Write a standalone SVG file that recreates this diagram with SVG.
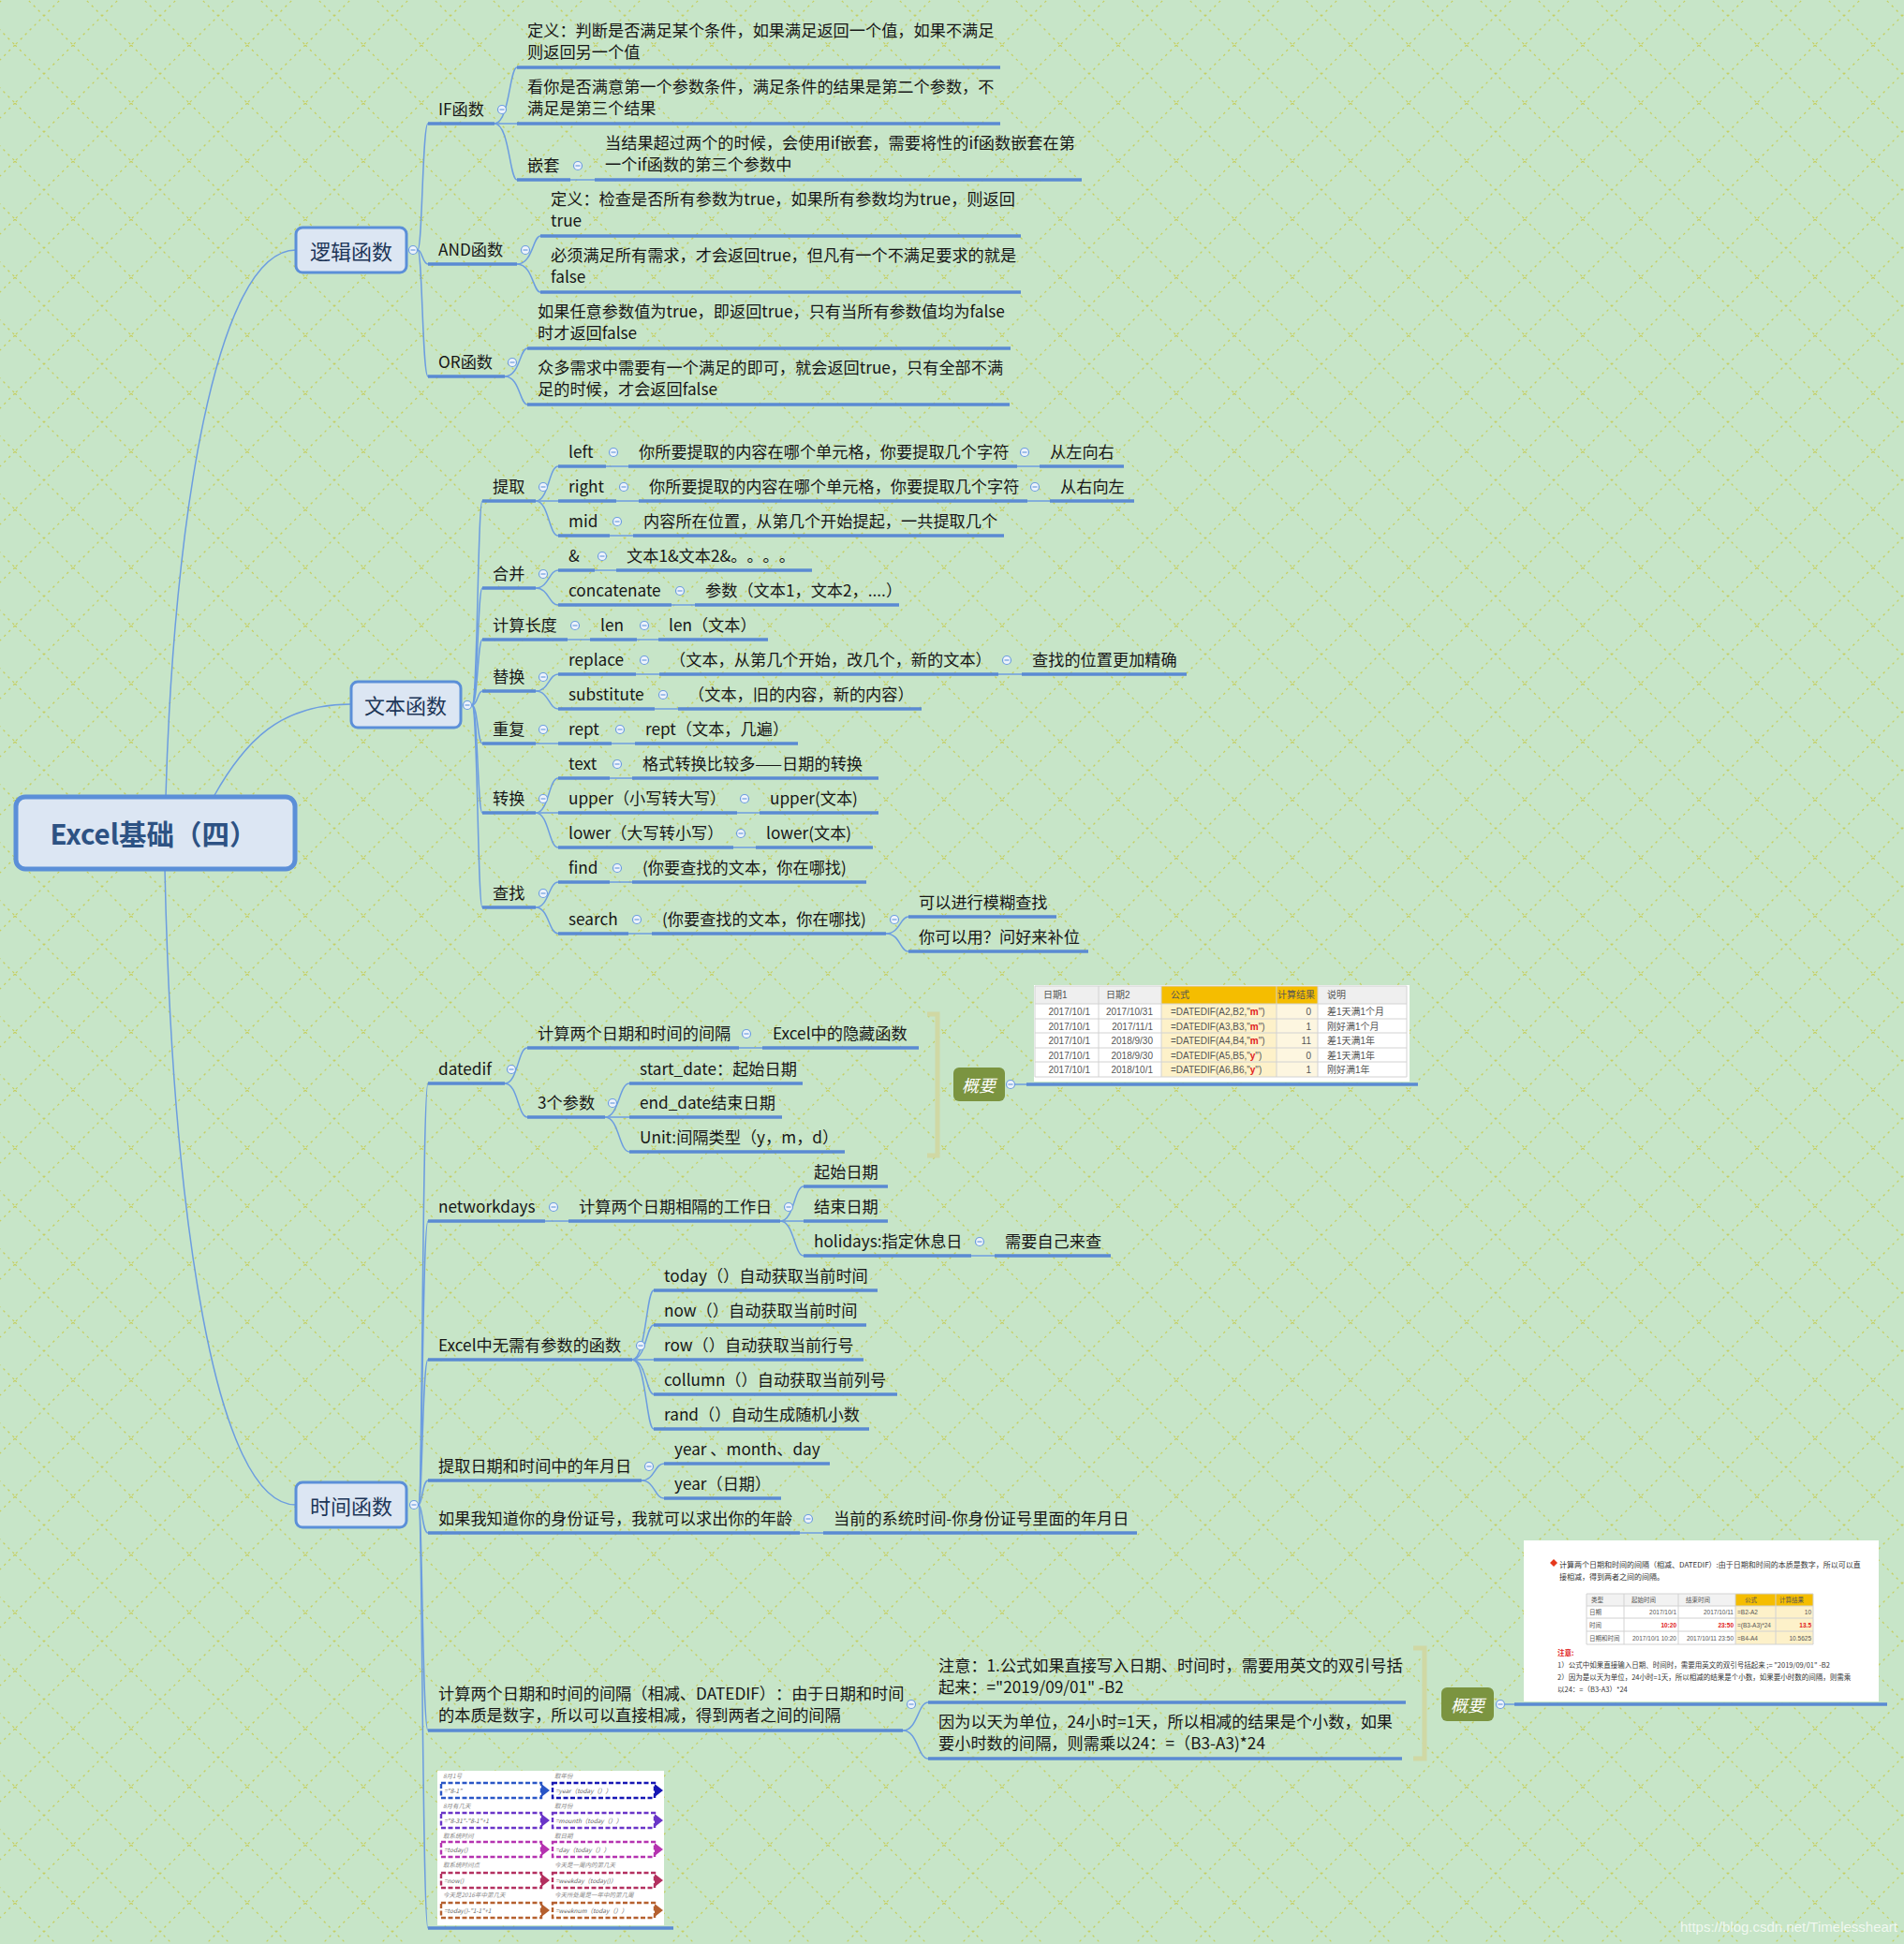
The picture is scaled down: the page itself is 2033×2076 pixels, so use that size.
<svg xmlns="http://www.w3.org/2000/svg" width="2033" height="2076" viewBox="0 0 2033 2076">
<defs>
<style>
text{text-spacing-trim:space-all}
.t{font-family:"Noto Sans CJK SC","Noto Sans",sans-serif;font-size:17.2px;fill:#161616;dominant-baseline:central;transform:translate(0px,-2px)}
.mt{font-family:"Noto Sans CJK SC","Noto Sans",sans-serif;font-size:22px;fill:#1c3557;dominant-baseline:central;text-anchor:middle}
.rt{font-family:"Noto Sans CJK SC","Noto Sans",sans-serif;font-size:29.5px;font-weight:bold;fill:#2d5283;dominant-baseline:central;text-anchor:middle}
.ul{stroke:#5a8ad3;stroke-width:3.5;fill:none}
.cn{stroke:#6c9de0;stroke-width:1.5;fill:none}
.box{fill:#dce6f3;stroke:#5b8fd8;stroke-width:3}
.sum{fill:#7b9440}
.st{font-family:"Noto Sans CJK SC",sans-serif;font-size:18px;font-style:italic;fill:#fff;dominant-baseline:central;text-anchor:middle}
.br{stroke:#d0d8a4;stroke-width:5;fill:none}
.tb{font-family:"Liberation Sans","Noto Sans CJK SC",sans-serif;font-size:10px;fill:#555;dominant-baseline:central}
.tb2{font-family:"Liberation Sans","Noto Sans CJK SC",sans-serif;font-size:6.5px;fill:#555;dominant-baseline:central}
.tx{font-family:"Noto Sans CJK SC","Liberation Sans",sans-serif;font-size:8px;fill:#333;dominant-baseline:central}
.tn{font-family:"Noto Sans CJK SC","Liberation Sans",sans-serif;font-size:7.5px;fill:#333;dominant-baseline:central}
.lb{font-family:"Noto Sans CJK SC","Liberation Sans",sans-serif;font-size:6.5px;font-style:italic;fill:#888;dominant-baseline:central}
.bt{font-family:"Noto Sans CJK SC","Liberation Sans",sans-serif;font-size:6.5px;font-style:italic;fill:#666;dominant-baseline:central}
.grid{stroke:#d2d2d2;stroke-width:1;fill:none}
.red{fill:#e02020;font-weight:bold}
</style>
<pattern id="bg" x="16" y="-14" width="62" height="62" patternUnits="userSpaceOnUse">
<path d="M0,0 L62,62 M62,0 L0,62" stroke="#c5cf62" stroke-width="1.3" stroke-dasharray="2.5 4.5" fill="none"/>
</pattern>
<g id="col"><circle r="4.5" fill="#eef3fb" stroke="#6c9de0" stroke-width="1.2"/><path d="M-2.5,0H2.5" stroke="#6c9de0" stroke-width="1.2"/></g>
</defs>
<rect width="2033" height="2076" fill="#c7e5c8"/>
<rect width="2033" height="2076" fill="url(#bg)"/>

<g id="connectors">
<path class="cn" d="M177,851 C185,560 230,267 316,267"/>
<path class="cn" d="M228,851 C262,790 300,752 375,752"/>
<path class="cn" d="M176,928 C184,1300 230,1607 316,1607"/>
<path class="cn" d="M446,267 C451,267 451,132 457,132"/>
<path class="cn" d="M446,267 C451,267 451,282 457,282"/>
<path class="cn" d="M446,267 C451,267 451,402 457,402"/>
<path class="cn" d="M528,132 C544,132 544,72 552,72"/>
<path class="cn" d="M528,132 L552,132"/>
<path class="cn" d="M528,132 C544,132 544,192 552,192"/>
<path class="cn" d="M609,192 L635,192"/>
<path class="cn" d="M552,282 C569,282 569,252 577,252"/>
<path class="cn" d="M552,282 C569,282 569,312 577,312"/>
<path class="cn" d="M539,402 C555,402 555,372 563,372"/>
<path class="cn" d="M539,402 C555,402 555,432 563,432"/>
<path class="cn" d="M504,753 C510,753 510,535 515,535"/>
<path class="cn" d="M504,753 C510,753 510,628 515,628"/>
<path class="cn" d="M504,753 C510,753 510,683 515,683"/>
<path class="cn" d="M504,753 C510,753 510,738 515,738"/>
<path class="cn" d="M504,753 C510,753 510,794 515,794"/>
<path class="cn" d="M504,753 C510,753 510,868 515,868"/>
<path class="cn" d="M504,753 C510,753 510,969 515,969"/>
<path class="cn" d="M572,535 C586,535 586,498 596,498"/>
<path class="cn" d="M572,535 L596,535"/>
<path class="cn" d="M572,535 C586,535 586,572 596,572"/>
<path class="cn" d="M647,498 L671,498"/>
<path class="cn" d="M1086,498 L1110,498"/>
<path class="cn" d="M658,535 L682,535"/>
<path class="cn" d="M1097,535 L1121,535"/>
<path class="cn" d="M651,572 L676,572"/>
<path class="cn" d="M572,628 C586,628 586,609 596,609"/>
<path class="cn" d="M572,628 C586,628 586,646 596,646"/>
<path class="cn" d="M635,609 L658,609"/>
<path class="cn" d="M717,646 L742,646"/>
<path class="cn" d="M606,683 L630,683"/>
<path class="cn" d="M680,683 L703,683"/>
<path class="cn" d="M572,738 C586,738 586,720 596,720"/>
<path class="cn" d="M572,738 C586,738 586,757 596,757"/>
<path class="cn" d="M679,720 L704,720"/>
<path class="cn" d="M1066,720 L1091,720"/>
<path class="cn" d="M699,757 L724,757"/>
<path class="cn" d="M572,794 L596,794"/>
<path class="cn" d="M653,794 L678,794"/>
<path class="cn" d="M572,868 C586,868 586,831 596,831"/>
<path class="cn" d="M572,868 L596,868"/>
<path class="cn" d="M572,868 C586,868 586,905 596,905"/>
<path class="cn" d="M651,831 L675,831"/>
<path class="cn" d="M787,868 L811,868"/>
<path class="cn" d="M783,905 L807,905"/>
<path class="cn" d="M572,969 C586,969 586,942 596,942"/>
<path class="cn" d="M572,969 C586,969 586,997 596,997"/>
<path class="cn" d="M651,942 L675,942"/>
<path class="cn" d="M671,997 L696,997"/>
<path class="cn" d="M946,997 C961,997 961,979 970,979"/>
<path class="cn" d="M946,997 C961,997 961,1016 970,1016"/>
<path class="cn" d="M447,1607 C451,1607 451,1157 457,1157"/>
<path class="cn" d="M447,1607 C451,1607 451,1304 457,1304"/>
<path class="cn" d="M447,1607 C451,1607 451,1452 457,1452"/>
<path class="cn" d="M447,1607 C451,1607 451,1581 457,1581"/>
<path class="cn" d="M447,1607 C451,1607 451,1637 457,1637"/>
<path class="cn" d="M447,1607 C451,1607 451,1848 457,1848"/>
<path class="cn" d="M447,1607 C451,1607 451,2059 457,2059"/>
<path class="cn" d="M539,1157 C553,1157 553,1119 563,1119"/>
<path class="cn" d="M539,1157 C553,1157 553,1193 563,1193"/>
<path class="cn" d="M789,1119 L814,1119"/>
<path class="cn" d="M646,1193 C661,1193 661,1157 672,1157"/>
<path class="cn" d="M646,1193 L672,1193"/>
<path class="cn" d="M646,1193 C661,1193 661,1230 672,1230"/>
<path class="cn" d="M582,1304 L607,1304"/>
<path class="cn" d="M833,1304 C848,1304 848,1267 858,1267"/>
<path class="cn" d="M833,1304 L858,1304"/>
<path class="cn" d="M833,1304 C848,1304 848,1341 858,1341"/>
<path class="cn" d="M1037,1341 L1062,1341"/>
<path class="cn" d="M675,1452 C690,1452 690,1378 698,1378"/>
<path class="cn" d="M675,1452 C690,1452 690,1415 698,1415"/>
<path class="cn" d="M675,1452 L698,1452"/>
<path class="cn" d="M675,1452 C690,1452 690,1489 698,1489"/>
<path class="cn" d="M675,1452 C690,1452 690,1526 698,1526"/>
<path class="cn" d="M685,1581 C699,1581 699,1563 709,1563"/>
<path class="cn" d="M685,1581 C699,1581 699,1600 709,1600"/>
<path class="cn" d="M854,1637 L879,1637"/>
<path class="cn" d="M964,1848 C980,1848 980,1818 991,1818"/>
<path class="cn" d="M964,1848 C980,1848 980,1878 991,1878"/>
<path class="cn" d="M1084,1158 L1096,1158"/>
<path class="cn" d="M1607,1820 L1617,1820"/>
</g>

<g id="n-root"><rect x="17" y="851" width="298" height="77" rx="10" fill="#dce6f3" stroke="#5b8fd8" stroke-width="5"/><text class="rt" x="164" y="889">Excel基础（四）</text></g>
<g id="n-logic"><rect class="box" x="316" y="243" width="118" height="48" rx="7"/><text class="mt" x="375" y="267">逻辑函数</text><use href="#col" x="441" y="267"/></g>
<g id="n-text"><rect class="box" x="375" y="728" width="117" height="49" rx="7"/><text class="mt" x="433" y="752">文本函数</text><use href="#col" x="499" y="753"/></g>
<g id="n-time"><rect class="box" x="316" y="1583" width="118" height="48" rx="7"/><text class="mt" x="375" y="1607">时间函数</text><use href="#col" x="442" y="1607"/></g>

<g id="n-if"><line class="ul" x1="457" y1="132" x2="528" y2="132"/><text class="t" x="468" y="117">IF函数</text><use href="#col" x="536" y="117"/></g>
<g id="n-if-def"><line class="ul" x1="552" y1="72" x2="1068" y2="72"/><text class="t" x="563" y="33">定义：判断是否满足某个条件，如果满足返回一个值，如果不满足</text><text class="t" x="563" y="56">则返回另一个值</text></g>
<g id="n-if-2"><line class="ul" x1="552" y1="132" x2="1068" y2="132"/><text class="t" x="563" y="93">看你是否满意第一个参数条件，满足条件的结果是第二个参数，不</text><text class="t" x="563" y="116">满足是第三个结果</text></g>
<g id="n-nest"><line class="ul" x1="552" y1="192" x2="609" y2="192"/><text class="t" x="563" y="177">嵌套</text><use href="#col" x="617" y="177"/></g>
<g id="n-nest-1"><line class="ul" x1="635" y1="192" x2="1155" y2="192"/><text class="t" x="646" y="153">当结果超过两个的时候，会使用if嵌套，需要将性的if函数嵌套在第</text><text class="t" x="646" y="176">一个if函数的第三个参数中</text></g>
<g id="n-and"><line class="ul" x1="457" y1="282" x2="552" y2="282"/><text class="t" x="468" y="267">AND函数</text><use href="#col" x="561" y="267"/></g>
<g id="n-and-1"><line class="ul" x1="577" y1="252" x2="1090" y2="252"/><text class="t" x="588" y="213">定义：检查是否所有参数为true，如果所有参数均为true，则返回</text><text class="t" x="588" y="236">true</text></g>
<g id="n-and-2"><line class="ul" x1="577" y1="312" x2="1090" y2="312"/><text class="t" x="588" y="273">必须满足所有需求，才会返回true，但凡有一个不满足要求的就是</text><text class="t" x="588" y="296">false</text></g>
<g id="n-or"><line class="ul" x1="457" y1="402" x2="539" y2="402"/><text class="t" x="468" y="387">OR函数</text><use href="#col" x="547" y="387"/></g>
<g id="n-or-1"><line class="ul" x1="563" y1="372" x2="1079" y2="372"/><text class="t" x="574" y="333">如果任意参数值为true，即返回true，只有当所有参数值均为false</text><text class="t" x="574" y="356">时才返回false</text></g>
<g id="n-or-2"><line class="ul" x1="563" y1="432" x2="1078" y2="432"/><text class="t" x="574" y="393">众多需求中需要有一个满足的即可，就会返回true，只有全部不满</text><text class="t" x="574" y="416">足的时候，才会返回false</text></g>

<g id="n-extract"><line class="ul" x1="515" y1="535" x2="572" y2="535"/><text class="t" x="526" y="520">提取</text><use href="#col" x="580" y="520"/></g>
<g id="n-left"><line class="ul" x1="596" y1="498" x2="647" y2="498"/><text class="t" x="607" y="483">left</text><use href="#col" x="655" y="483"/></g>
<g id="n-left-1"><line class="ul" x1="671" y1="498" x2="1086" y2="498"/><text class="t" x="682" y="483">你所要提取的内容在哪个单元格，你要提取几个字符</text><use href="#col" x="1094" y="483"/></g>
<g id="n-left-2"><line class="ul" x1="1110" y1="498" x2="1200" y2="498"/><text class="t" x="1121" y="483">从左向右</text></g>
<g id="n-right"><line class="ul" x1="596" y1="535" x2="658" y2="535"/><text class="t" x="607" y="520">right</text><use href="#col" x="666" y="520"/></g>
<g id="n-right-1"><line class="ul" x1="682" y1="535" x2="1097" y2="535"/><text class="t" x="693" y="520">你所要提取的内容在哪个单元格，你要提取几个字符</text><use href="#col" x="1105" y="520"/></g>
<g id="n-right-2"><line class="ul" x1="1121" y1="535" x2="1211" y2="535"/><text class="t" x="1132" y="520">从右向左</text></g>
<g id="n-mid"><line class="ul" x1="596" y1="572" x2="651" y2="572"/><text class="t" x="607" y="557">mid</text><use href="#col" x="659" y="557"/></g>
<g id="n-mid-1"><line class="ul" x1="676" y1="572" x2="1072" y2="572"/><text class="t" x="687" y="557">内容所在位置，从第几个开始提起，一共提取几个</text></g>
<g id="n-merge"><line class="ul" x1="515" y1="628" x2="572" y2="628"/><text class="t" x="526" y="613">合并</text><use href="#col" x="580" y="613"/></g>
<g id="n-amp"><line class="ul" x1="596" y1="609" x2="635" y2="609"/><text class="t" x="607" y="594">&amp;</text><use href="#col" x="643" y="594"/></g>
<g id="n-amp-1"><line class="ul" x1="658" y1="609" x2="867" y2="609"/><text class="t" x="669" y="594">文本1&amp;文本2&amp;。。。。</text></g>
<g id="n-concat"><line class="ul" x1="596" y1="646" x2="717" y2="646"/><text class="t" x="607" y="631">concatenate</text><use href="#col" x="726" y="631"/></g>
<g id="n-concat-1"><line class="ul" x1="742" y1="646" x2="960" y2="646"/><text class="t" x="753" y="631">参数（文本1，文本2，....）</text></g>
<g id="n-length"><line class="ul" x1="515" y1="683" x2="606" y2="683"/><text class="t" x="526" y="668">计算长度</text><use href="#col" x="614" y="668"/></g>
<g id="n-len"><line class="ul" x1="630" y1="683" x2="680" y2="683"/><text class="t" x="641" y="668">len</text><use href="#col" x="688" y="668"/></g>
<g id="n-len-1"><line class="ul" x1="703" y1="683" x2="820" y2="683"/><text class="t" x="714" y="668">len（文本）</text></g>
<g id="n-replace-g"><line class="ul" x1="515" y1="738" x2="572" y2="738"/><text class="t" x="526" y="723">替换</text><use href="#col" x="580" y="723"/></g>
<g id="n-replace"><line class="ul" x1="596" y1="720" x2="679" y2="720"/><text class="t" x="607" y="705">replace</text><use href="#col" x="688" y="705"/></g>
<g id="n-replace-1"><line class="ul" x1="704" y1="720" x2="1066" y2="720"/><text class="t" x="715" y="705">（文本，从第几个开始，改几个，新的文本）</text><use href="#col" x="1075" y="705"/></g>
<g id="n-replace-2"><line class="ul" x1="1091" y1="720" x2="1267" y2="720"/><text class="t" x="1102" y="705">查找的位置更加精确</text></g>
<g id="n-subst"><line class="ul" x1="596" y1="757" x2="699" y2="757"/><text class="t" x="607" y="742">substitute</text><use href="#col" x="708" y="742"/></g>
<g id="n-subst-1"><line class="ul" x1="724" y1="757" x2="984" y2="757"/><text class="t" x="735" y="742">（文本，旧的内容，新的内容）</text></g>
<g id="n-repeat"><line class="ul" x1="515" y1="794" x2="572" y2="794"/><text class="t" x="526" y="779">重复</text><use href="#col" x="580" y="779"/></g>
<g id="n-rept"><line class="ul" x1="596" y1="794" x2="653" y2="794"/><text class="t" x="607" y="779">rept</text><use href="#col" x="662" y="779"/></g>
<g id="n-rept-1"><line class="ul" x1="678" y1="794" x2="852" y2="794"/><text class="t" x="689" y="779">rept（文本，几遍）</text></g>
<g id="n-convert"><line class="ul" x1="515" y1="868" x2="572" y2="868"/><text class="t" x="526" y="853">转换</text><use href="#col" x="580" y="853"/></g>
<g id="n-textf"><line class="ul" x1="596" y1="831" x2="651" y2="831"/><text class="t" x="607" y="816">text</text><use href="#col" x="659" y="816"/></g>
<g id="n-textf-1"><line class="ul" x1="675" y1="831" x2="938" y2="831"/><text class="t" x="686" y="816">格式转换比较多——日期的转换</text></g>
<g id="n-upper"><line class="ul" x1="596" y1="868" x2="787" y2="868"/><text class="t" x="607" y="853">upper（小写转大写）</text><use href="#col" x="795" y="853"/></g>
<g id="n-upper-1"><line class="ul" x1="811" y1="868" x2="938" y2="868"/><text class="t" x="822" y="853">upper(文本)</text></g>
<g id="n-lower"><line class="ul" x1="596" y1="905" x2="783" y2="905"/><text class="t" x="607" y="890">lower（大写转小写）</text><use href="#col" x="791" y="890"/></g>
<g id="n-lower-1"><line class="ul" x1="807" y1="905" x2="932" y2="905"/><text class="t" x="818" y="890">lower(文本)</text></g>
<g id="n-lookup"><line class="ul" x1="515" y1="969" x2="572" y2="969"/><text class="t" x="526" y="954">查找</text><use href="#col" x="580" y="954"/></g>
<g id="n-find"><line class="ul" x1="596" y1="942" x2="651" y2="942"/><text class="t" x="607" y="927">find</text><use href="#col" x="659" y="927"/></g>
<g id="n-find-1"><line class="ul" x1="675" y1="942" x2="925" y2="942"/><text class="t" x="686" y="927">(你要查找的文本，你在哪找)</text></g>
<g id="n-search"><line class="ul" x1="596" y1="997" x2="671" y2="997"/><text class="t" x="607" y="982">search</text><use href="#col" x="680" y="982"/></g>
<g id="n-search-1"><line class="ul" x1="696" y1="997" x2="946" y2="997"/><text class="t" x="707" y="982">(你要查找的文本，你在哪找)</text><use href="#col" x="955" y="982"/></g>
<g id="n-search-2"><line class="ul" x1="970" y1="979" x2="1128" y2="979"/><text class="t" x="981" y="964">可以进行模糊查找</text></g>
<g id="n-search-3"><line class="ul" x1="970" y1="1016" x2="1162" y2="1016"/><text class="t" x="981" y="1001">你可以用？问好来补位</text></g>

<g id="n-datedif"><line class="ul" x1="457" y1="1157" x2="539" y2="1157"/><text class="t" x="468" y="1142">datedif</text><use href="#col" x="546" y="1142"/></g>
<g id="n-dd-1"><line class="ul" x1="563" y1="1119" x2="789" y2="1119"/><text class="t" x="574" y="1104">计算两个日期和时间的间隔</text><use href="#col" x="797" y="1104"/></g>
<g id="n-dd-1-1"><line class="ul" x1="814" y1="1119" x2="981" y2="1119"/><text class="t" x="825" y="1104">Excel中的隐藏函数</text></g>
<g id="n-dd-2"><line class="ul" x1="563" y1="1193" x2="646" y2="1193"/><text class="t" x="574" y="1178">3个参数</text><use href="#col" x="654" y="1178"/></g>
<g id="n-dd-2-1"><line class="ul" x1="672" y1="1157" x2="857" y2="1157"/><text class="t" x="683" y="1142">start_date：起始日期</text></g>
<g id="n-dd-2-2"><line class="ul" x1="672" y1="1193" x2="835" y2="1193"/><text class="t" x="683" y="1178">end_date结束日期</text></g>
<g id="n-dd-2-3"><line class="ul" x1="672" y1="1230" x2="902" y2="1230"/><text class="t" x="683" y="1215">Unit:间隔类型（y，m，d）</text></g>
<g id="n-sum1"><path class="br" d="M990,1083 H1001 V1234 H990"/><rect class="sum" x="1018" y="1140" width="55" height="36" rx="6"/><text class="st" x="1045" y="1158">概要</text><use href="#col" x="1079" y="1158"/></g>
<g id="n-img1">
<rect x="1104" y="1052" width="401" height="103" fill="#ffffff"/>
<rect x="1105" y="1053" width="135" height="19" fill="#efefef"/>
<rect x="1407" y="1053" width="95" height="19" fill="#efefef"/>
<rect x="1240" y="1053" width="167" height="19" fill="#f5bd00"/>
<rect x="1240" y="1072" width="123" height="78" fill="#fdf1c9"/>
<rect x="1363" y="1072" width="44" height="78" fill="#fdf6e0"/>
<path class="grid" d="M1105,1053 H1502 V1150 H1105 Z M1105,1072 H1502 M1105,1088 H1502 M1105,1103 H1502 M1105,1119 H1502 M1105,1134 H1502 M1173,1053 V1150 M1240,1053 V1150 M1363,1053 V1150 M1407,1053 V1150"/>
<text class="tb" x="1114" y="1062">日期1</text><text class="tb" x="1181" y="1062">日期2</text><text class="tb" x="1250" y="1062">公式</text><text class="tb" x="1364" y="1062">计算结果</text><text class="tb" x="1417" y="1062">说明</text>
<g text-anchor="end">
<text class="tb" x="1164" y="1080">2017/10/1</text><text class="tb" x="1231" y="1080">2017/10/31</text><text class="tb" x="1400" y="1080">0</text>
<text class="tb" x="1164" y="1096">2017/10/1</text><text class="tb" x="1231" y="1096">2017/11/1</text><text class="tb" x="1400" y="1096">1</text>
<text class="tb" x="1164" y="1111">2017/10/1</text><text class="tb" x="1231" y="1111">2018/9/30</text><text class="tb" x="1400" y="1111">11</text>
<text class="tb" x="1164" y="1127">2017/10/1</text><text class="tb" x="1231" y="1127">2018/9/30</text><text class="tb" x="1400" y="1127">0</text>
<text class="tb" x="1164" y="1142">2017/10/1</text><text class="tb" x="1231" y="1142">2018/10/1</text><text class="tb" x="1400" y="1142">1</text>
</g>
<text class="tb" x="1250" y="1080">=DATEDIF(A2,B2,"<tspan class="red">m</tspan>")</text>
<text class="tb" x="1250" y="1096">=DATEDIF(A3,B3,"<tspan class="red">m</tspan>")</text>
<text class="tb" x="1250" y="1111">=DATEDIF(A4,B4,"<tspan class="red">m</tspan>")</text>
<text class="tb" x="1250" y="1127">=DATEDIF(A5,B5,"<tspan class="red">y</tspan>")</text>
<text class="tb" x="1250" y="1142">=DATEDIF(A6,B6,"<tspan class="red">y</tspan>")</text>
<text class="tb" x="1417" y="1080">差1天满1个月</text><text class="tb" x="1417" y="1096">刚好满1个月</text><text class="tb" x="1417" y="1111">差1天满1年</text><text class="tb" x="1417" y="1127">差1天满1年</text><text class="tb" x="1417" y="1142">刚好满1年</text>
<line class="ul" x1="1096" y1="1158" x2="1514" y2="1158"/>
</g>

<g id="n-nwd"><line class="ul" x1="457" y1="1304" x2="582" y2="1304"/><text class="t" x="468" y="1289">networkdays</text><use href="#col" x="591" y="1289"/></g>
<g id="n-nwd-1"><line class="ul" x1="607" y1="1304" x2="833" y2="1304"/><text class="t" x="618" y="1289">计算两个日期相隔的工作日</text><use href="#col" x="842" y="1289"/></g>
<g id="n-nwd-1-1"><line class="ul" x1="858" y1="1267" x2="948" y2="1267"/><text class="t" x="869" y="1252">起始日期</text></g>
<g id="n-nwd-1-2"><line class="ul" x1="858" y1="1304" x2="948" y2="1304"/><text class="t" x="869" y="1289">结束日期</text></g>
<g id="n-nwd-1-3"><line class="ul" x1="858" y1="1341" x2="1037" y2="1341"/><text class="t" x="869" y="1326">holidays:指定休息日</text><use href="#col" x="1046" y="1326"/></g>
<g id="n-nwd-1-3-1"><line class="ul" x1="1062" y1="1341" x2="1186" y2="1341"/><text class="t" x="1073" y="1326">需要自己来查</text></g>
<g id="n-noarg"><line class="ul" x1="457" y1="1452" x2="675" y2="1452"/><text class="t" x="468" y="1437">Excel中无需有参数的函数</text><use href="#col" x="684" y="1437"/></g>
<g id="n-today"><line class="ul" x1="698" y1="1378" x2="937" y2="1378"/><text class="t" x="709" y="1363">today（）自动获取当前时间</text></g>
<g id="n-now"><line class="ul" x1="698" y1="1415" x2="925" y2="1415"/><text class="t" x="709" y="1400">now（）自动获取当前时间</text></g>
<g id="n-row"><line class="ul" x1="698" y1="1452" x2="922" y2="1452"/><text class="t" x="709" y="1437">row（）自动获取当前行号</text></g>
<g id="n-collumn"><line class="ul" x1="698" y1="1489" x2="958" y2="1489"/><text class="t" x="709" y="1474">collumn（）自动获取当前列号</text></g>
<g id="n-rand"><line class="ul" x1="698" y1="1526" x2="928" y2="1526"/><text class="t" x="709" y="1511">rand（）自动生成随机小数</text></g>
<g id="n-ymd"><line class="ul" x1="457" y1="1581" x2="685" y2="1581"/><text class="t" x="468" y="1566">提取日期和时间中的年月日</text><use href="#col" x="693" y="1566"/></g>
<g id="n-ymd-1"><line class="ul" x1="709" y1="1563" x2="886" y2="1563"/><text class="t" x="720" y="1548">year 、month、day</text></g>
<g id="n-ymd-2"><line class="ul" x1="709" y1="1600" x2="834" y2="1600"/><text class="t" x="720" y="1585">year（日期）</text></g>
<g id="n-age"><line class="ul" x1="457" y1="1637" x2="854" y2="1637"/><text class="t" x="468" y="1622">如果我知道你的身份证号，我就可以求出你的年龄</text><use href="#col" x="863" y="1622"/></g>
<g id="n-age-1"><line class="ul" x1="879" y1="1637" x2="1214" y2="1637"/><text class="t" x="890" y="1622">当前的系统时间-你身份证号里面的年月日</text></g>
<g id="n-diff"><line class="ul" x1="457" y1="1848" x2="964" y2="1848"/><text class="t" x="468" y="1809">计算两个日期和时间的间隔（相减、DATEDIF）：由于日期和时间</text><text class="t" x="468" y="1832">的本质是数字，所以可以直接相减，得到两者之间的间隔</text><use href="#col" x="973" y="1820"/></g>
<g id="n-diff-1"><line class="ul" x1="991" y1="1818" x2="1501" y2="1818"/><text class="t" x="1002" y="1779">注意：1.公式如果直接写入日期、时间时，需要用英文的双引号括</text><text class="t" x="1002" y="1802">起来：="2019/09/01" -B2</text></g>
<g id="n-diff-2"><line class="ul" x1="991" y1="1878" x2="1497" y2="1878"/><text class="t" x="1002" y="1839">因为以天为单位，24小时=1天，所以相减的结果是个小数，如果</text><text class="t" x="1002" y="1862">要小时数的间隔，则需乘以24：=（B3-A3)*24</text></g>
<g id="n-sum2"><path class="br" d="M1509,1760 H1521 V1878 H1509"/><rect class="sum" x="1539" y="1802" width="56" height="36" rx="6"/><text class="st" x="1567" y="1820">概要</text><use href="#col" x="1602" y="1820"/></g>
<g id="n-img2">
<rect x="1627" y="1645" width="379" height="172" fill="#ffffff"/>
<path d="M1659,1665 L1663,1669 L1659,1673 L1655,1669 Z" fill="#e5391c"/>
<text class="tx" x="1665" y="1670">计算两个日期和时间的间隔（相减、DATEDIF）:由于日期和时间的本质是数字，所以可以直</text>
<text class="tx" x="1665" y="1683">接相减，得到两者之间的间隔。</text>
<rect x="1694" y="1702" width="159" height="13" fill="#f2f2f2"/>
<rect x="1853" y="1702" width="83" height="13" fill="#f5bd00"/>
<rect x="1853" y="1715" width="83" height="41" fill="#fdf1c9"/>
<path class="grid" d="M1694,1702 H1936 V1756 H1694 Z M1694,1715 H1936 M1694,1728 H1936 M1694,1742 H1936 M1734,1702 V1756 M1792,1702 V1756 M1853,1702 V1756 M1896,1702 V1756"/>
<text class="tb2" x="1699" y="1708">类型</text><text class="tb2" x="1742" y="1708">起始时间</text><text class="tb2" x="1800" y="1708">结束时间</text><text class="tb2" x="1863" y="1708">公式</text><text class="tb2" x="1900" y="1708">计算结果</text>
<text class="tb2" x="1697" y="1721">日期</text><text class="tb2" x="1697" y="1735">时间</text><text class="tb2" x="1697" y="1749">日期和时间</text>
<g text-anchor="end">
<text class="tb2" x="1790" y="1721">2017/10/1</text><text class="tb2" x="1851" y="1721">2017/10/11</text><text class="tb2" x="1934" y="1721">10</text>
<text class="tb2 red" x="1790" y="1735">10:20</text><text class="tb2 red" x="1851" y="1735">23:50</text><text class="tb2 red" x="1934" y="1735">13.5</text>
<text class="tb2" x="1790" y="1749">2017/10/1 10:20</text><text class="tb2" x="1851" y="1749">2017/10/11 23:50</text><text class="tb2" x="1934" y="1749">10.5625</text>
</g>
<text class="tb2" x="1855" y="1721">=B2-A2</text><text class="tb2" x="1855" y="1735">=(B3-A3)*24</text><text class="tb2" x="1855" y="1749">=B4-A4</text>
<text class="tn" x="1663" y="1764" style="fill:#e02020;font-weight:bold">注意:</text>
<text class="tn" x="1663" y="1777">1）公式中如果直接输入日期、时间时，需要用英文的双引号括起来 ;= "2019/09/01" -B2</text>
<text class="tn" x="1663" y="1790">2）因为是以天为单位，24小时=1天，所以相减的结果是个小数，如果要小时数的间隔，则需乘</text>
<text class="tn" x="1663" y="1803">以24：=（B3-A3）*24</text>
<line class="ul" x1="1617" y1="1820" x2="2015" y2="1820"/>
</g>

<g id="n-img3">
<rect x="467" y="1891" width="242" height="165" fill="#ffffff"/>
<g fill="#ffffff" stroke-width="2.4" stroke-dasharray="5 2.5">
<rect x="471" y="1904" width="107" height="16" stroke="#2a56c6"/><rect x="590" y="1904" width="109" height="16" stroke="#1616b4"/>
<rect x="471" y="1936" width="107" height="16" stroke="#6a35c8"/><rect x="590" y="1936" width="109" height="16" stroke="#6a35c8"/>
<rect x="471" y="1967" width="107" height="16" stroke="#b533b0"/><rect x="590" y="1967" width="109" height="16" stroke="#b533b0"/>
<rect x="471" y="2000" width="107" height="16" stroke="#b3305f"/><rect x="590" y="2000" width="109" height="16" stroke="#b3305f"/>
<rect x="471" y="2032" width="107" height="16" stroke="#b5602f"/><rect x="590" y="2032" width="109" height="16" stroke="#b5602f"/>
</g>
<path d="M578,1905 L587,1912 L578,1919 Z" fill="#2a56c6"/><path d="M699,1905 L708,1912 L699,1919 Z" fill="#1616b4"/>
<path d="M578,1937 L587,1944 L578,1951 Z" fill="#6a35c8"/><path d="M699,1937 L708,1944 L699,1951 Z" fill="#6a35c8"/>
<path d="M578,1968 L587,1975 L578,1982 Z" fill="#b533b0"/><path d="M699,1968 L708,1975 L699,1982 Z" fill="#b533b0"/>
<path d="M578,2001 L587,2008 L578,2015 Z" fill="#b3305f"/><path d="M699,2001 L708,2008 L699,2015 Z" fill="#b3305f"/>
<path d="M578,2033 L587,2040 L578,2047 Z" fill="#b5602f"/><path d="M699,2033 L708,2040 L699,2047 Z" fill="#b5602f"/>
<text class="lb" x="473" y="1896">8月1号</text><text class="lb" x="592" y="1896">取年份</text>
<text class="lb" x="473" y="1928">8月有几天</text><text class="lb" x="592" y="1928">取月份</text>
<text class="lb" x="473" y="1960">取系统时间</text><text class="lb" x="592" y="1960">取日期</text>
<text class="lb" x="473" y="1991">取系统时间点</text><text class="lb" x="592" y="1991">今天是一周内的第几天</text>
<text class="lb" x="473" y="2023">今天是2016年中第几天</text><text class="lb" x="592" y="2023">今天所处周是一年中的第几周</text>
<text class="bt" x="474" y="1912">="8-1"</text><text class="bt" x="593" y="1912">=year（today（））</text>
<text class="bt" x="474" y="1944">="8-31"-"8-1"+1</text><text class="bt" x="593" y="1944">=mounth（today（））</text>
<text class="bt" x="474" y="1975">=today()</text><text class="bt" x="593" y="1975">=day（today（））</text>
<text class="bt" x="474" y="2008">=now()</text><text class="bt" x="593" y="2008">=weekday（today()）</text>
<text class="bt" x="474" y="2040">=today()-"1-1"+1</text><text class="bt" x="593" y="2040">=weeknum（today（））</text>
<line class="ul" x1="457" y1="2059" x2="719" y2="2059"/>
</g>

<text x="2026" y="2057" font-family="Liberation Sans, sans-serif" font-size="15" fill="#ffffff" fill-opacity="0.75" text-anchor="end" dominant-baseline="central">https://blog.csdn.net/Timelessheart</text>
</svg>
